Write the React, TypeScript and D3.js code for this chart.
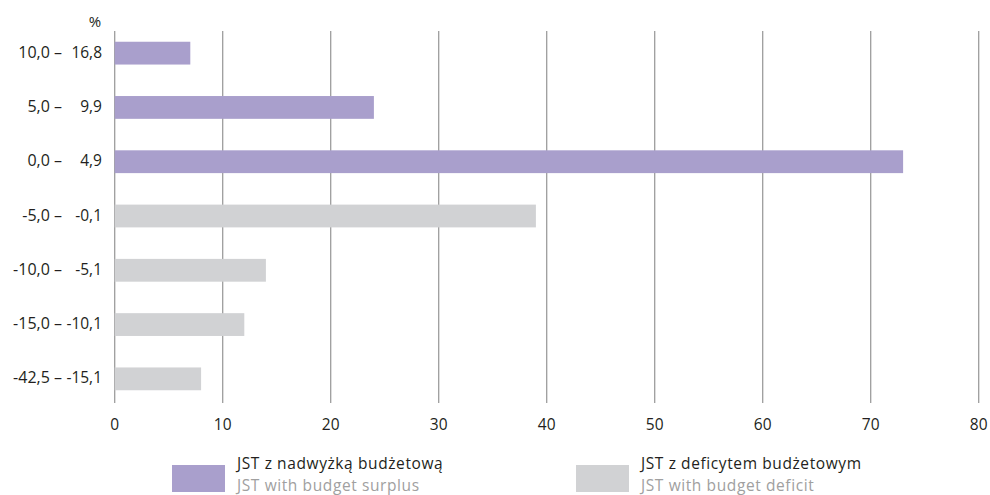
import React from "react";
import * as d3 from "d3";

const categoriesLeft = ["10,0 –", "5,0 –", "0,0 –", "-5,0 –", "-10,0 –", "-15,0 –", "-42,5 –"];
const categoriesRight = ["16,8", "9,9", "4,9", "-0,1", "-5,1", "-10,1", "-15,1"];
const values = [7, 24, 73, 39, 14, 12, 8];
const isSurplus = [true, true, true, false, false, false, false];
const xTicks = [0, 10, 20, 30, 40, 50, 60, 70, 80];
const legendMain = ["JST z nadwyżką budżetową", "JST z deficytem budżetowym"];
const legendSub = ["JST with budget surplus", "JST with budget deficit"];

const PURPLE = "#a99fcc";
const GRAY = "#d1d2d4";
const FONT = "'Open Sans', sans-serif";

export default function App() {
  const W = 990, H = 495;
  const x = d3.scaleLinear().domain([0, 80]).range([114.7, 978.7]);
  const idx = values.map((_, i) => i);
  const y = d3.scaleBand<number>().domain(idx).range([26, 406]).paddingInner(0.58).paddingOuter(0.29);
  const gridTop = 31, gridBottom = 403;
  return (
    <svg width={W} height={H} style={{ position: "absolute", left: 0, top: 0 }} fontFamily={FONT}>
      {xTicks.map((t) => (
        <line key={t} x1={x(t)} x2={x(t)} y1={gridTop} y2={gridBottom} stroke="#9d9d9d" strokeWidth={1.3} />
      ))}
      {values.map((v, i) => (
        <rect key={i} x={x(0)} y={y(i)} width={x(v) - x(0)} height={y.bandwidth()} fill={isSurplus[i] ? PURPLE : GRAY} />
      ))}
      {xTicks.map((t) => (
        <text key={"t" + t} x={x(t)} y={430} textAnchor="middle" fontSize={15.5} fill="#231f20">{t}</text>
      ))}
      {idx.map((i) => (
        <g key={"l" + i}>
          <text x={62} y={y(i)! + y.bandwidth() / 2 + 4.5} textAnchor="end" fontSize={16} fill="#231f20">{categoriesLeft[i]}</text>
          <text x={102} y={y(i)! + y.bandwidth() / 2 + 4.5} textAnchor="end" fontSize={15.5} fill="#231f20">{categoriesRight[i]}</text>
        </g>
      ))}
      <text x={95} y={27} textAnchor="middle" fontSize={15} fill="#231f20">%</text>
      {[0, 1].map((k) => {
        const bx = k === 0 ? 172 : 576;
        return (
          <g key={"lg" + k}>
            <rect x={bx} y={465} width={53} height={27} fill={k === 0 ? PURPLE : GRAY} />
            <text x={bx + 65} y={469} fontSize={15.5} letterSpacing={0.6} fill="#231f20">{legendMain[k]}</text>
            <text x={bx + 65} y={490.5} fontSize={15.5} letterSpacing={0.6} fill="#a0a0a0">{legendSub[k]}</text>
          </g>
        );
      })}
    </svg>
  );
}
